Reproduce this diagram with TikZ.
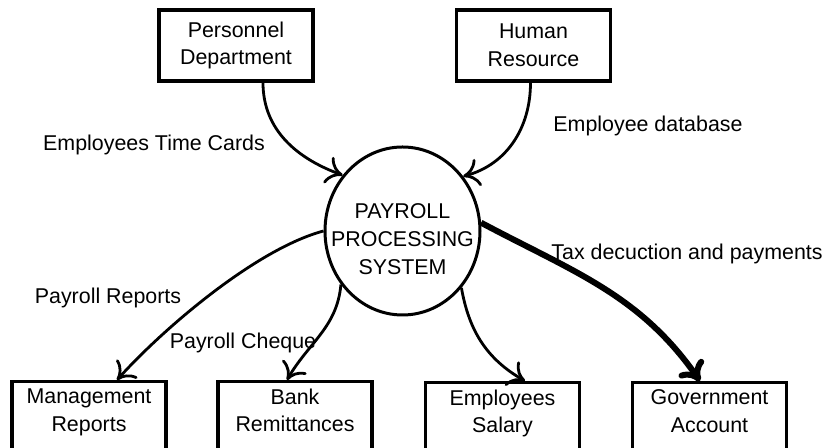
\documentclass[tikz,border=0pt]{standalone}
\usepackage{fontspec}
\setmainfont{Liberation Sans}
\usetikzlibrary{positioning}
\usetikzlibrary{shapes.geometric}
\usetikzlibrary{arrows.meta}
\tikzset{entitybox/.style={rectangle, draw=black, line width=1.7pt, minimum width=77pt, minimum height=35.5pt, align=center, inner sep=2pt}}
\tikzset{sinkbox/.style={rectangle, draw=black, line width=1.7pt, minimum width=77pt, anchor=north, align=center, inner xsep=2pt, inner ysep=3.6pt}}
\tikzset{procbubble/.style={ellipse, draw=black, line width=1.5pt, minimum width=77.5pt, minimum height=84pt, align=center, inner sep=0pt}}
\tikzset{flowline/.style={line width=1.4pt, -{Computer Modern Rightarrow[length=8pt, width=14pt]}}}
\tikzset{heavyflow/.style={line width=3pt, -{Computer Modern Rightarrow[length=9pt, width=15pt]}}}
\newcommand{\boxdepth}{\rule[-14pt]{0pt}{14pt}}
\newcommand{\zw}[1]{\makebox[0pt]{#1}}

\begin{document}
\begin{tikzpicture}[x=0.5pt, y=0.5pt, font=\fontsize{10.7}{13.8}\selectfont]
        \useasboundingbox (0,0) rectangle (826,448);
        \node [entitybox](pers) at (236,402.5) {Personnel\\Department};
        \node [entitybox](hr) at (533.5,402.5) {Human\\Resource};
        \node [procbubble](pss) at (402.5,217) {\rule{0pt}{15.5pt}\zw{PAYROLL}\\[0.3pt]\zw{PROCESSING}\\[0.3pt]\zw{SYSTEM}};
        \node [sinkbox](mgmt) at (89,68) {Management\\Reports\boxdepth};
        \node [sinkbox](bank) at (295,68) {Bank\\Remittances\boxdepth};
        \node [sinkbox](emp) at (502.5,67) {Employees\\Salary\boxdepth};
        \node [sinkbox](gov) at (709.5,67) {Government\\Account\boxdepth};

        \node [](lblcards) at (154,303) {Employees Time Cards};
        \node [](lbldb) at (648,322) {Employee database};
        \node [](lbltax) at (687,194) {Tax decuction and payments};
        \node [](lblreports) at (108,150) {Payroll Reports};
        \node [](lblcheque) at (243,105) {Payroll Cheque};

        \draw [flowline] ([xshift=13.5pt]pers.south) to[out=-90, in=160] (pss.137);
        \draw [flowline] ([xshift=-1.5pt]hr.south) to[out=-90, in=15] (pss.42);
        \draw [flowline] (pss.180) to[out=195, in=48, looseness=0.7] ([xshift=14pt]mgmt.north);
        \draw [flowline] (pss.221) to[out=265, in=60] ([xshift=-4pt]bank.north);
        \draw [flowline] (pss.316) to[out=-80, in=150] ([xshift=11.25pt]emp.north);
        \draw [heavyflow] (pss.6) to[out=-28, in=125] ([xshift=-4.75pt]gov.north);
\end{tikzpicture}
\end{document}
